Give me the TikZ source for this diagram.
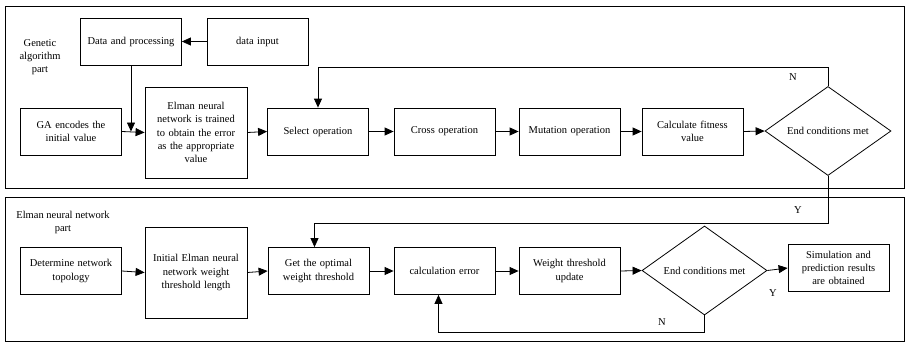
\documentclass[tikz,border=0pt]{standalone}
\usepackage{fontspec}
\setmainfont{Liberation Serif}
\usetikzlibrary{arrows.meta,shapes.geometric}
\begin{document}
\begin{tikzpicture}[x=1pt,y=-1pt,
  font=\fontsize{10.5}{13.3}\selectfont,
  line width=0.8pt,
  stepbox/.style={draw, rectangle, inner sep=1pt, align=center,
    minimum width=101pt, minimum height=47pt, text width=97pt},
  tallbox/.style={stepbox, minimum width=102pt, minimum height=91pt, text width=96pt},
  decide/.style={draw, diamond, inner sep=0pt, align=center,
    minimum width=126pt, minimum height=88pt},
  frame/.style={draw, line width=0.9pt},
  flow/.style={-{Triangle[length=9pt,width=8pt]}},
  lbl/.style={inner sep=0pt, align=center}]

% page area
\path[fill=white] (0,0) rectangle (906,343);
\useasboundingbox (0,0) rectangle (906,343);

% section frames
\draw[frame] (5,6) rectangle (904.5,188);
\draw[frame] (5,197) rectangle (904,341);

% genetic algorithm part
\node[lbl] (galbl) at (40,57) {Genetic\\algorithm\\part};
\node[stepbox] (dp)    at (131,41.5)   {Data and processing};
\node[stepbox] (din)   at (257.5,41.5) {data input};
\node[stepbox] (ga)    at (71,131.5)   {GA encodes the\\initial value};
\node[tallbox] (elm)   at (196,132.5)  {Elman neural\\network is trained\\to obtain the error\\as the appropriate\\value};
\node[stepbox] (sel)   at (318,131.5)  {Select operation};
\node[stepbox] (cross) at (444.5,131.5) {Cross operation};
\node[stepbox] (mut)   at (569.5,131.5) {Mutation operation};
\node[stepbox] (fit)   at (692.5,131.5) {Calculate fitness\\value};
\node[decide]  (d1)    at (828,131)    {End conditions met};

\draw[flow] (din.west) -- (dp.east);
\draw[flow] (dp.south) -- (dp.south |- ga.east);
\draw[flow] (ga.east) -- (elm.west);
\draw[flow] (elm.east) -- (sel.west);
\draw[flow] (sel.east) -- (cross.west);
\draw[flow] (cross.east) -- (mut.west);
\draw[flow] (mut.east) -- (fit.west);
\draw[flow] (fit.east) -- (d1.west);
\coordinate (nbend) at (828,67);
\draw[flow] (d1.north) -- (nbend) -| (sel.north);
\node[lbl] (n1) at (793,77) {N};

% Elman neural network part
\node[lbl] (enlbl) at (63,222.5) {Elman neural network\\part};
\node[stepbox] (dnt)  at (71,271)     {Determine network\\topology};
\node[tallbox] (init) at (196,272.5)  {Initial Elman neural\\network weight\\threshold length};
\node[stepbox] (opt)  at (318.5,271)  {Get the optimal\\weight threshold};
\node[stepbox] (err)  at (444.5,271)  {calculation error};
\node[stepbox] (wtu)  at (569.5,271)  {Weight threshold\\update};
\node[decide, minimum width=125pt, minimum height=89pt] (d2) at (704.5,270.5) {End conditions met};
\node[stepbox] (sim)  at (838.5,268)  {Simulation and\\prediction results\\are obtained};

\coordinate (ybend) at (828,223);
\draw[flow] (d1.south) -- (ybend) -| ([xshift=-4pt]opt.north);
\node[lbl] (y1) at (798,210) {Y};

\draw[flow] (dnt.east) -- (init.west);
\draw[flow] (init.east) -- (opt.west);
\draw[flow] (opt.east) -- (err.west);
\draw[flow] (err.east) -- (wtu.west);
\draw[flow] (wtu.east) -- (d2.west);
\draw[flow] (d2.east) -- (sim.west);
\node[lbl] (y2) at (773,293) {Y};

\coordinate (nloop) at (704.5,332);
\draw[flow] (d2.south) -- (nloop) -| ([xshift=-6pt]err.south);
\node[lbl] (n2) at (662,322) {N};
\end{tikzpicture}
\end{document}
